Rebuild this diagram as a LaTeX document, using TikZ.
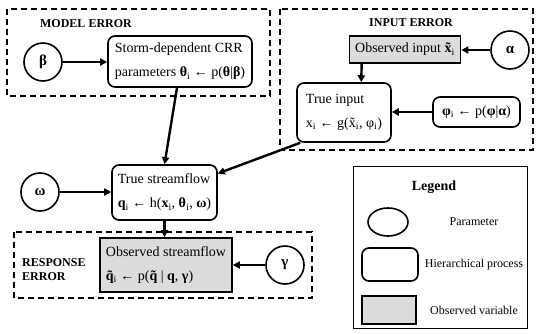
\documentclass[tikz,border=0pt]{standalone}
\usepackage{fontspec}
\setmainfont{Liberation Serif}
\usetikzlibrary{arrows.meta,calc,shapes.geometric}

\definecolor{obsgray}{RGB}{220,220,220}
% tilde placed over a letter
\newcommand\tld[1]{\ooalign{#1\cr\hidewidth\char"02DC\hidewidth\cr}}
\newcommand\sbi{\textsubscript{i}}

\begin{document}
\begin{tikzpicture}[x=1pt,y=-1pt,
  param/.style={circle, draw, line width=1.6pt, minimum size=38pt, inner sep=0pt,
    font=\fontsize{15}{15}\selectfont\bfseries},
  proc/.style={draw, rounded corners=7pt, line width=1.6pt, align=left, inner sep=2pt,
    font=\fontsize{14}{24}\selectfont},
  obsbox/.style={draw, fill=obsgray, line width=1.6pt, align=left, inner sep=2pt,
    font=\fontsize{14}{24}\selectfont},
  region/.style={draw, line width=2pt, dash pattern=on 6pt off 4pt},
  regionlabel/.style={font=\fontsize{12}{14}\selectfont\bfseries, inner sep=0pt},
  arr/.style={line width=2.4pt, -{Triangle[length=7pt,width=7pt]}},
  legtext/.style={font=\fontsize{12}{14}\selectfont, inner sep=0pt}
]
\useasboundingbox (0,0) rectangle (537,333);

% error regions
\draw[region] (7,9) rectangle (270,96);
\draw[region] (280,9) rectangle (533,150);
\draw[region] (14,232) rectangle (312,298);
\node[regionlabel] (modellab) at (86,24) {MODEL ERROR};
\node[regionlabel] (inputlab) at (411,23) {INPUT ERROR};
\node[regionlabel, align=left, anchor=west] (resplab) at (22,270) {RESPONSE\\ERROR};

% model error
\node[param] (beta) at (43,62) {β};
\node[proc, minimum width=144pt, minimum height=51pt] (crr) at (180,61.5)
  {Storm-dependent CRR\\parameters \textbf{θ}\sbi\ ← p(\textbf{θ}|\textbf{β})};

% input error
\node[obsbox, minimum width=111pt, minimum height=27pt] (obsin) at (405,49.5)
  {Observed input \textbf{\tld{x}}\sbi};
\node[param] (alpha) at (510,50) {α};
\node[proc, minimum width=94pt, minimum height=59pt] (truein) at (344,112.5)
  {True input\\x\sbi\ ← g(\tld{x}\sbi, φ\sbi)};
\node[proc, minimum width=87pt, minimum height=30pt, font=\fontsize{14}{16}\selectfont] (phi) at (476.5,112)
  {\textbf{φ}\sbi\ ← p(\textbf{φ}|\textbf{α})};

% streamflow
\node[param] (omega) at (40,192) {ω};
\node[proc, minimum width=105pt, minimum height=55pt] (ts) at (164.5,192.5)
  {True streamflow\\\textbf{q}\sbi\ ← h(\textbf{x}\sbi, \textbf{θ}\sbi, \textbf{ω})};
\node[obsbox, minimum width=132pt, minimum height=54pt] (os) at (166,265)
  {Observed streamflow\\\textbf{\tld{q}}\sbi\ ← p(\textbf{\tld{q}} | \textbf{q}, \textbf{γ})};
\node[param] (gamma) at (285,265) {γ};

% connectors
\draw[arr] (beta) -- (crr.west |- beta);
\draw[arr] ($(crr.south)+(-3,0)$) -- (ts.north);
\draw[arr] (alpha) -- (obsin.east |- alpha);
\draw[arr] ($(obsin.south west)+(13,0)$) -- ($(truein.north west)+(65,0)$);
\draw[arr] (phi.west) -- (truein.east |- phi.west);
\draw[arr] ($(truein.south west)+(4,0)$) -- ($(ts.east)+(0,-19)$);
\draw[arr] (omega) -- (ts.west |- omega);
\draw[arr] (ts.south) -- (ts.south |- os.north);
\draw[arr] (gamma) -- (os.east |- gamma);

% legend
\node[draw, line width=0.8pt, minimum width=174pt, minimum height=162pt] (legend) at (440,247) {};
\node[font=\fontsize{14}{14}\selectfont\bfseries, inner sep=0pt] (legtitle) at (434,187) {Legend};
\node[ellipse, draw, line width=1.6pt, minimum width=40pt, minimum height=28pt] (legpar) at (388,222) {};
\node[legtext] (legpartxt) at (474,222) {Parameter};
\node[draw, rounded corners=7pt, line width=1.6pt, minimum width=56pt, minimum height=33pt] (legproc) at (390,264.5) {};
\node[legtext] (legproctxt) at (474,264.5) {Hierarchical process};
\node[draw, fill=obsgray, line width=1.6pt, minimum width=54pt, minimum height=28pt] (legobs) at (389,310) {};
\node[legtext] (legobstxt) at (474,310) {Observed variable};
\end{tikzpicture}
\end{document}
